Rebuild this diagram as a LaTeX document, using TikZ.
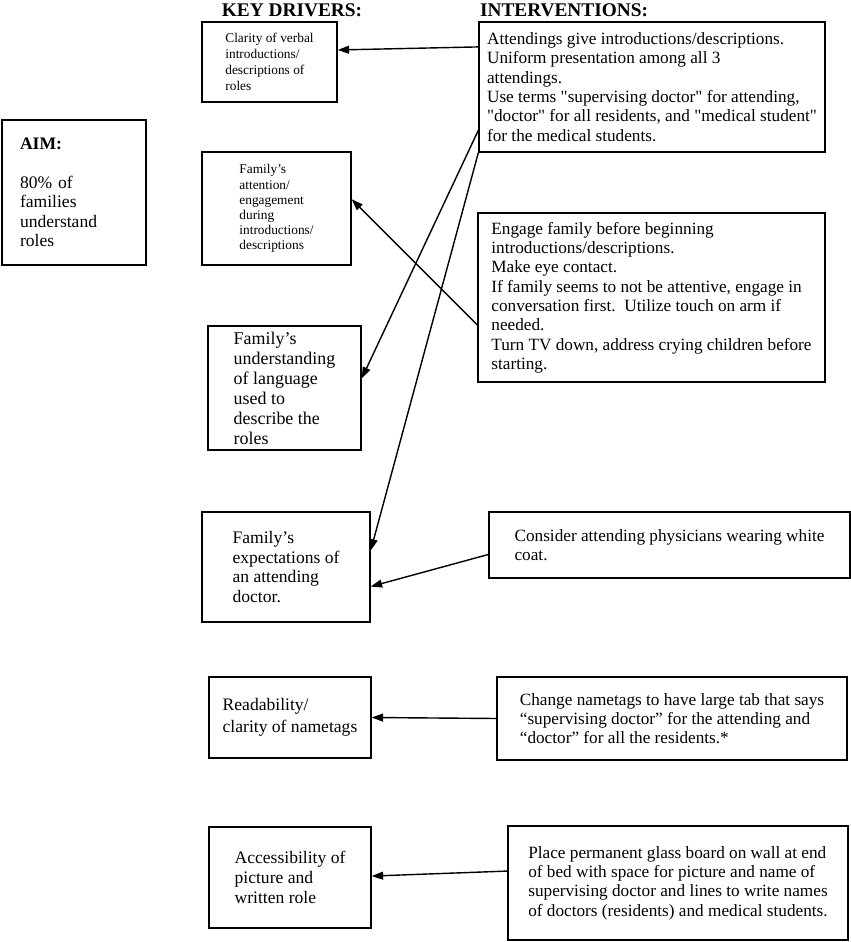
\documentclass[tikz,border=0pt]{standalone}
\usepackage{fontspec}
\setmainfont{Liberation Serif}[Ligatures=TeXOff]
\usetikzlibrary{arrows.meta}
\tikzstyle{driver} = [rectangle, draw=black, line width=0.8pt, align=left, inner sep=0pt, font=\fontsize{10}{11.3}\selectfont]
\tikzstyle{intervention} = [rectangle, draw=black, line width=0.8pt, align=left, inner sep=0pt, font=\fontsize{9.8}{11}\selectfont]
\tikzstyle{heading} = [font=\fontsize{11}{13}\selectfont\bfseries]
\tikzstyle{arrow} = [line width=0.8pt, -{Triangle[length=6.5pt,width=4.5pt]}]

\begin{document}
\begin{tikzpicture}[x=0.02cm, y=-0.02cm]
\useasboundingbox (0,0) rectangle (850,942);

% Column titles
\node (drvhead) [heading] at (292,10) {KEY DRIVERS:};
\node (inthead) [heading] at (564,10) {INTERVENTIONS:};

% Aim
\node (aim) [driver, text width=2.16cm, inner xsep=0.36cm, minimum height=2.9cm, font=\fontsize{10}{11}\selectfont] at (74,192.5) {\textbf{AIM:}\\[11pt]80\% of\\families\\understand\\roles};

% Key drivers
\node (d1) [driver, minimum width=2.7cm, minimum height=1.6cm, font=\fontsize{7.6}{9}\selectfont] at (269.5,62) {Clarity of verbal\\introductions/\\descriptions of\\roles};
\node (d2) [driver, minimum width=2.98cm, minimum height=2.26cm, font=\fontsize{7.6}{8.6}\selectfont] at (276.5,208.5) {Family’s\\attention/\\engagement\\during\\introductions/\\descriptions};
\node (d3) [driver, minimum width=3.06cm, minimum height=2.48cm, font=\fontsize{10.2}{11.4}\selectfont] at (284.5,388) {Family’s\\understanding\\of language\\used to\\describe the\\roles};
\node (d4) [driver, minimum width=3.36cm, minimum height=2.2cm] at (286,567) {Family’s\\expectations of\\an attending\\doctor.};
\node (d5) [driver, minimum width=3.24cm, minimum height=1.62cm, font=\fontsize{10}{12.4}\selectfont] at (290,717.5) {Readability/\\clarity of nametags};
\node (d6) [driver, minimum width=3.24cm, minimum height=2.02cm] at (290,877.5) {Accessibility of\\picture and\\written role};

% Interventions
\node (i1) [intervention, minimum width=6.92cm, minimum height=2.6cm] at (652,87) {Attendings give introductions/descriptions.\\Uniform presentation among all 3\\attendings.\\Use terms "supervising doctor" for attending,\\"doctor" for all residents, and "medical student"\\for the medical students.};
\node (i2) [intervention, minimum width=6.94cm, minimum height=3.38cm] at (651.5,297.5) {Engage family before beginning\\introductions/descriptions.\\Make eye contact.\\If family seems to not be attentive, engage in\\conversation first.\ \ Utilize touch on arm if\\needed.\\Turn TV down, address crying children before\\starting.};
\node (i4) [intervention, minimum width=7.22cm, minimum height=1.32cm] at (669.5,545) {Consider attending physicians wearing white\\coat.};
\node (i5) [intervention, minimum width=7.0cm, minimum height=1.66cm] at (672,718.5) {Change nametags to have large tab that says\\“supervising doctor” for the attending and\\“doctor” for all the residents.*};
\node (i6) [intervention, minimum width=6.8cm, minimum height=2.28cm] at (678,883) {Place permanent glass board on wall at end\\of bed with space for picture and name of\\supervising doctor and lines to write names\\of doctors (residents) and medical students.};

% Connections
\draw[arrow] (i1.167) -- (d1.10);
\draw[arrow] (i1.194) -- (d3.7);
\draw[arrow] (i1.south west) -- (d4.11);
\draw[arrow] (i2.189) -- (d2.7);
\draw[arrow] (i4.183) -- (d4.347);
\draw[arrow] (i5.west) -- (d5.east);
\draw[arrow] (i6.176) -- (d6.1);
\end{tikzpicture}
\end{document}
